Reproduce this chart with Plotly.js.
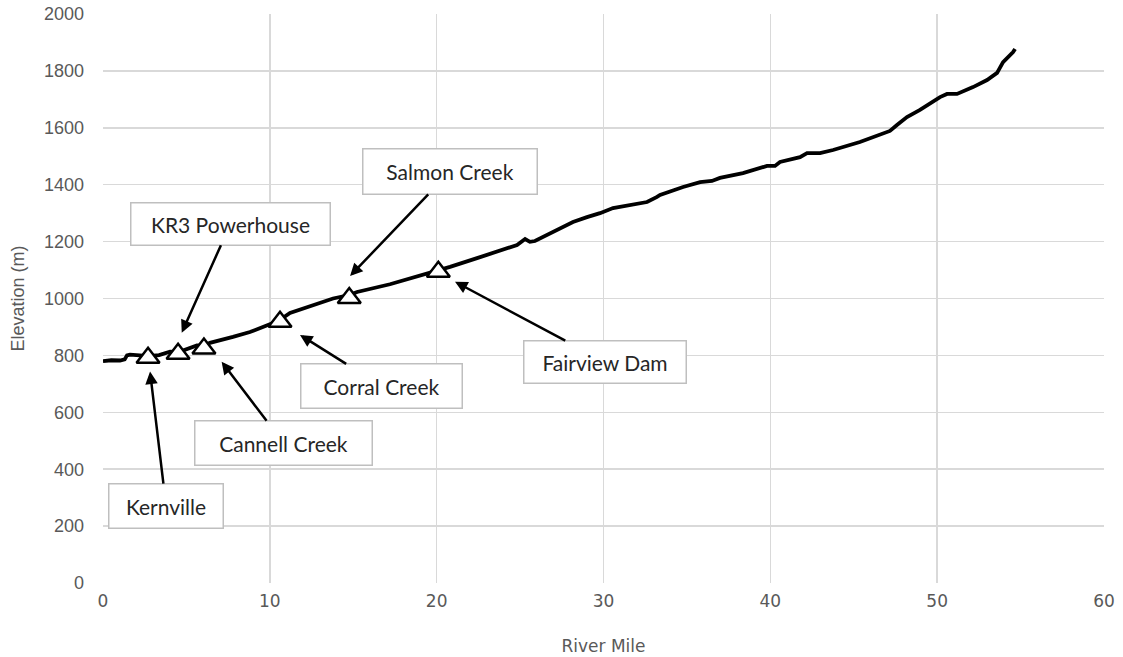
<!DOCTYPE html>
<html>
<head>
<meta charset="utf-8">
<script src="https://cdn.plot.ly/plotly-3.0.1.min.js"></script>
<style>html,body{margin:0;padding:0;background:#fff;}#chart{width:1123px;height:657px;}</style>
</head>
<body>
<div id="chart"></div>
<script>
// River profile
const riverMile = [0, 0.5, 1.02, 1.3, 1.44, 1.62, 2.2, 2.7, 3.36, 4.02, 4.5, 5.04, 5.63, 6.05, 6.41, 7.79, 8.81, 10.19, 10.61, 11.21, 12.41, 13.79, 14.76, 15.23, 17.2, 19.6, 20.1, 20.8, 22.42, 23.2, 23.8, 24.82, 25.3, 25.59, 25.89, 26.61, 28.17, 29.01, 29.79, 30.57, 31.77, 32.61, 33.21, 33.39, 34.77, 35.79, 36.5, 36.98, 38.36, 39.8, 40.28, 40.58, 41.78, 42.2, 42.98, 43.76, 45.37, 46.39, 47.17, 47.59, 48.19, 48.97, 50.17, 50.59, 51.19, 52.15, 52.99, 53.59, 53.95, 54.55, 54.67];
const elevation = [780, 783, 782, 786, 800, 803, 800, 797, 801, 813, 811, 824, 835, 834, 844, 865, 882, 914, 925, 949, 974, 1000, 1012, 1023, 1050, 1090, 1098, 1111, 1142, 1156, 1167, 1188, 1209, 1199, 1202, 1223, 1269, 1286, 1300, 1318, 1329, 1339, 1357, 1364, 1392, 1409, 1413, 1424, 1441, 1466, 1466, 1480, 1497, 1511, 1511, 1522, 1550, 1571, 1589, 1610, 1638, 1663, 1708, 1719, 1719, 1743, 1768, 1793, 1831, 1866, 1877];

// Sites
const siteNames = ["Kernville", "KR3 Powerhouse", "Cannell Creek", "Corral Creek", "Salmon Creek", "Fairview Dam"];
const siteMile = [2.70, 4.50, 6.05, 10.61, 14.76, 20.10];
const siteElev = [792, 806, 824, 918, 1002, 1094];

// Annotation layout: arrow tip and label-box centre (data coords), box size (px)
const tipX = [2.82, 4.72, 7.11, 11.81, 14.81, 21.1];
const tipY = [743, 880, 778, 872, 1079, 1059];
const boxX = [3.78, 7.64, 10.82, 16.70, 20.80, 30.09];
const boxY = [271, 1262, 492, 692, 1446, 777];
const boxW = [116, 201, 179, 163, 176, 164];
const boxH = [46, 44, 46, 46, 47, 44];

const annFont = {family: "Lato, 'Open Sans', sans-serif", size: 21, color: "#262626"};
const annotations = siteNames.map((n, i) => ({
  x: tipX[i], y: tipY[i], xref: "x", yref: "y",
  ax: boxX[i], ay: boxY[i], axref: "x", ayref: "y",
  text: n, showarrow: true, arrowhead: 2, arrowsize: 1, arrowwidth: 2.5, arrowcolor: "#000",
  bgcolor: "#fff", bordercolor: "#bfbfbf", borderwidth: 1.5, borderpad: 0,
  width: boxW[i] - 3, height: boxH[i] - 3, font: annFont, align: "center", valign: "middle"
}));

const traces = [
  {x: riverMile, y: elevation, type: "scatter", mode: "lines",
   line: {color: "#000", width: 3.8}, hoverinfo: "skip"},
  {x: siteMile, y: siteElev, type: "scatter", mode: "markers", text: siteNames,
   marker: {symbol: "triangle-up", size: 20, color: "#fff", line: {color: "#000", width: 2.5}}}
];

const narrowFont = {family: "'DejaVu Sans', sans-serif", stretch: "condensed", size: 17, color: "#595959"};

const layout = {
  width: 1123, height: 657,
  margin: {l: 103, r: 19, t: 14, b: 74},
  paper_bgcolor: "#fff", plot_bgcolor: "#fff",
  showlegend: false,
  xaxis: {
    range: [0, 60], tickvals: [0, 10, 20, 30, 40, 50, 60],
    showgrid: true, gridcolor: "#d9d9d9", gridwidth: 1.5, zeroline: false,
    showline: false, ticks: "", ticklabelstandoff: 6,
    tickfont: narrowFont,
    title: {text: "River Mile", standoff: 30, font: narrowFont}
  },
  yaxis: {
    range: [0, 2000], tickvals: [0, 200, 400, 600, 800, 1000, 1200, 1400, 1600, 1800, 2000],
    showgrid: true, gridcolor: "#d9d9d9", gridwidth: 1.5, zeroline: false,
    showline: false, ticks: "", ticklabelstandoff: 18,
    tickfont: {family: "'Liberation Sans', Arial, sans-serif", size: 18, color: "#595959"},
    title: {text: "Elevation (m)", standoff: 14, font: {family: "'Liberation Sans', Arial, sans-serif", size: 18, color: "#595959"}}
  },
  annotations: annotations
};

Plotly.newPlot("chart", traces, layout, {displayModeBar: false, staticPlot: true});
</script>
</body>
</html>
